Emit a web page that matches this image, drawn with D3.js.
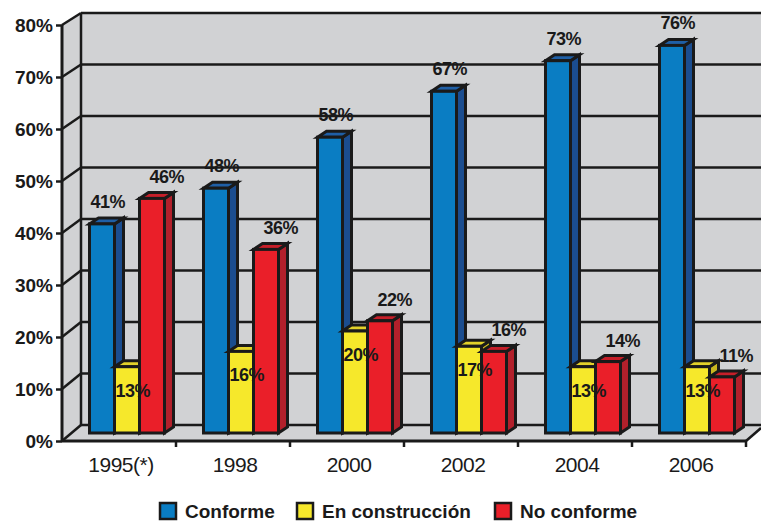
<!DOCTYPE html>
<html>
<head>
<meta charset="utf-8">
<script src="https://cdn.jsdelivr.net/npm/d3@7"></script>
<style>
  body { margin: 0; background: #fff; }
  svg { display: block; font-family: "Liberation Sans", Arial, sans-serif; }
</style>
</head>
<body>
<svg id="chart" width="761" height="523"></svg>
<script>
const categories = ['1995(*)', '1998', '2000', '2002', '2004', '2006']
const series = ['Conforme', 'En construcción', 'No conforme']
const conforme = [41, 48, 58, 67, 73, 76]
const enConstruccion = [13, 16, 20, 17, 13, 13]
const noConforme = [46, 36, 22, 16, 14, 11]
const yTicks = [0, 10, 20, 30, 40, 50, 60, 70, 80]

const colors = {
    'Conforme': { front: '#0a7dc3', side: '#1b4d8f', top: '#1f5fa6' },
    'En construcción': { front: '#f6e82b', side: '#c9b61f', top: '#e2d12a' },
    'No conforme': { front: '#ea1f29', side: '#b2202b', top: '#c61f29' }
}

const values = { 'Conforme': conforme, 'En construcción': enConstruccion, 'No conforme': noConforme }

const W = 761
const svg = d3.select('#chart')

const x0 = d3.scaleBand().domain(categories).range([62, 746]).paddingInner(0).paddingOuter(0)
const x1 = d3.scaleBand().domain(series).range([0, x0.bandwidth()]).paddingInner(0).paddingOuter(0.78)

// front plane, back wall and bar plane
const yFront = d3.scaleLinear().domain([0, 80]).range([441, 25])
const yBack = d3.scaleLinear().domain([0, 80]).range([425, 13])
const yBar = d3.scaleLinear().domain([0, 80]).range([433, 25])
const wallDx = 19
const barDx = 8
const depth = { x: 9, y: -6 }

const wallFill = '#d1d2d4'
const ink = '#1a1a1a'

// back wall
svg.append('rect')
    .attr('x', 62 + wallDx).attr('y', yBack(80))
    .attr('width', W - 62 - wallDx).attr('height', yBack(0) - yBack(80))
    .attr('fill', wallFill)

// left wall
svg.append('path')
    .attr('d', d3.line()([[62, yFront(80)], [62 + wallDx, yBack(80)], [62 + wallDx, yBack(0)], [62, yFront(0)]]))
    .attr('fill', wallFill)

// floor
svg.append('path')
    .attr('d', d3.line()([[62, yFront(0)], [62 + wallDx, yBack(0)], [W, yBack(0)], [W, yBack(0) + 3], [746, yFront(0)]]))
    .attr('fill', wallFill)

// grid lines on back wall and diagonals on left wall
const grid = svg.append('g').attr('stroke', ink).attr('stroke-width', 2.5).attr('fill', 'none')
grid.selectAll('.hline').data(yTicks).join('line')
    .attr('x1', 62 + wallDx).attr('x2', W)
    .attr('y1', d => yBack(d)).attr('y2', d => yBack(d))
grid.selectAll('.dline').data(yTicks).join('line')
    .attr('x1', 62).attr('x2', 62 + wallDx)
    .attr('y1', d => yFront(d)).attr('y2', d => yBack(d))
grid.append('line')
    .attr('x1', 62 + wallDx).attr('x2', 62 + wallDx)
    .attr('y1', yBack(80)).attr('y2', yBack(0))
// right end of the floor
grid.append('line')
    .attr('x1', 746).attr('y1', yFront(0)).attr('x2', W).attr('y2', yBack(0) + 3)

// bars
const groups = svg.selectAll('.group').data(categories).join('g')
    .attr('class', 'group')
    .attr('transform', d => 'translate(' + (x0(d) + barDx) + ',0)')

groups.each(function (cat, i) {
    const g = d3.select(this)
    series.forEach(s => {
        const v = values[s][i]
        const bx = x1(s)
        const bw = x1.bandwidth()
        const top = yBar(v)
        const bottom = yBar(0)
        const c = colors[s]
        const bar = g.append('g')
            .attr('stroke', ink).attr('stroke-width', 3).attr('stroke-linejoin', 'miter')
        bar.append('path')
            .attr('d', d3.line()([[bx + bw, top], [bx + bw + depth.x, top + depth.y], [bx + bw + depth.x, bottom + depth.y], [bx + bw, bottom]]) + 'Z')
            .attr('fill', c.side)
        bar.append('path')
            .attr('d', d3.line()([[bx, top], [bx + depth.x, top + depth.y], [bx + bw + depth.x, top + depth.y], [bx + bw, top]]) + 'Z')
            .attr('fill', c.top)
        bar.append('rect')
            .attr('x', bx).attr('y', top)
            .attr('width', bw).attr('height', bottom - top)
            .attr('fill', c.front)
    })
})

// value labels
groups.each(function (cat, i) {
    const g = d3.select(this)
    const lab = g.append('g')
        .attr('font-size', 18).attr('font-weight', 'bold').attr('fill', ink)
        .attr('letter-spacing', -0.5)
    lab.append('text')
        .attr('x', x1('Conforme') + 1)
        .attr('y', yBar(conforme[i]) - 16)
        .text(conforme[i] + '%')
    lab.append('text')
        .attr('x', x1('En construcción') + 1)
        .attr('y', yBar(enConstruccion[i]) + 30)
        .text(enConstruccion[i] + '%')
    lab.append('text')
        .attr('x', x1('No conforme') + 10)
        .attr('y', yBar(noConforme[i]) - 15)
        .text(noConforme[i] + '%')
})

// front y axis
const yAxis = svg.append('g')
    .attr('transform', 'translate(62,0)')
    .call(d3.axisLeft(yFront).tickValues(yTicks).tickSize(6).tickPadding(3).tickFormat(d => d + '%'))
yAxis.select('.domain').remove()
yAxis.selectAll('.tick line').attr('stroke', ink).attr('stroke-width', 2.5)
yAxis.selectAll('.tick text')
    .attr('font-size', 19).attr('font-weight', 'bold').attr('fill', ink)
    .attr('font-family', '"Liberation Sans", Arial, sans-serif')
svg.append('line')
    .attr('x1', 62).attr('x2', 62).attr('y1', yFront(80)).attr('y2', yFront(0))
    .attr('stroke', ink).attr('stroke-width', 3)

// front x axis
svg.append('line')
    .attr('x1', 62).attr('x2', 746).attr('y1', yFront(0)).attr('y2', yFront(0))
    .attr('stroke', ink).attr('stroke-width', 3)
svg.selectAll('.xtick').data(categories).join('line')
    .attr('x1', d => x0(d) + x0.bandwidth()).attr('x2', d => x0(d) + x0.bandwidth())
    .attr('y1', yFront(0)).attr('y2', yFront(0) + 6)
    .attr('stroke', ink).attr('stroke-width', 2.5)

const xAxis = svg.append('g')
    .attr('transform', 'translate(2,' + yFront(0) + ')')
    .call(d3.axisBottom(x0).tickSize(0).tickPadding(16))
xAxis.select('.domain').remove()
xAxis.selectAll('.tick text')
    .attr('font-size', 21).attr('fill', ink)
    .attr('font-family', '"Liberation Sans", Arial, sans-serif')
    .attr('letter-spacing', -0.5)

// legend
const legendX = [160, 297, 495]
const legend = svg.append('g').attr('transform', 'translate(0,503)')
const items = legend.selectAll('g').data(series).join('g')
    .attr('transform', (d, i) => 'translate(' + legendX[i] + ',0)')
items.append('rect')
    .attr('width', 16).attr('height', 16)
    .attr('fill', d => colors[d].front)
    .attr('stroke', ink).attr('stroke-width', 2.5)
items.append('text')
    .attr('x', 25).attr('y', 15)
    .attr('font-size', 19).attr('font-weight', 'bold').attr('fill', ink)
    .text(d => d)
</script>
</body>
</html>
